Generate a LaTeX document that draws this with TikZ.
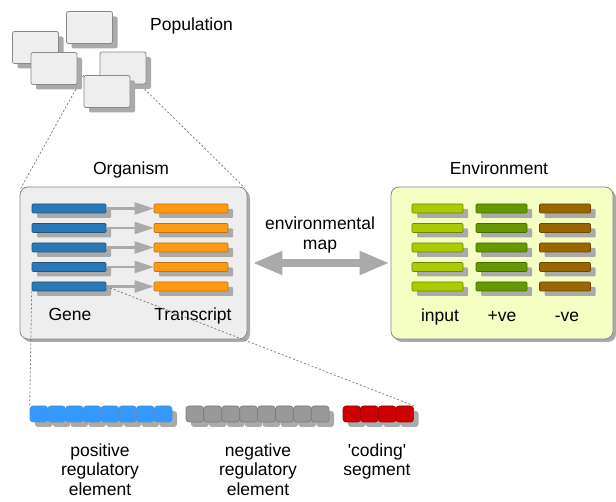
\documentclass[tikz,border=0pt]{standalone}
\usepackage{fontspec}
\newfontfamily\lsans{Liberation Sans}
\usetikzlibrary{arrows.meta,shadows,backgrounds}

\definecolor{boxfill}{HTML}{EEEEEE}
\definecolor{boxdraw}{HTML}{888888}
\definecolor{shadowc}{HTML}{AAAAAA}
\definecolor{envfill}{HTML}{F5FFC4}
\definecolor{geneblue}{HTML}{2B78B6}
\definecolor{transor}{HTML}{FF9912}
\definecolor{inputc}{HTML}{AACC00}
\definecolor{posc}{HTML}{669900}
\definecolor{negc}{HTML}{996600}
\definecolor{sqblue}{HTML}{3399FF}
\definecolor{sqgray}{HTML}{999999}
\definecolor{sqred}{HTML}{CC0000}
\definecolor{arrowc}{HTML}{AAAAAA}
\definecolor{dashc}{HTML}{808080}

\begin{document}
\begin{tikzpicture}[x=1pt,y=-1pt,
  lbl/.style={font=\lsans\fontsize{17.5}{19.5}\selectfont, inner sep=0pt, text=black},
  popbox/.style={rectangle, rounded corners=2pt, fill=boxfill, draw=boxdraw, line width=0.8pt,
    minimum width=46pt, minimum height=32pt, inner sep=0pt,
    general shadow={shadow xshift=5pt, shadow yshift=-5pt, fill=shadowc}},
  bigbox/.style={rectangle, rounded corners=8pt, draw=boxdraw, line width=0.8pt,
    minimum height=152pt, inner sep=0pt,
    general shadow={shadow xshift=3pt, shadow yshift=-3pt, fill=shadowc}},
  bar/.style={rectangle, rounded corners=1pt, minimum height=9pt, inner sep=0pt, line width=0.6pt,
    general shadow={shadow xshift=5pt, shadow yshift=-5pt, fill=shadowc}},
  sq/.style={rectangle, rounded corners=3pt, minimum width=17.75pt, minimum height=16pt, inner sep=0pt,
    line width=0.6pt, general shadow={shadow xshift=5pt, shadow yshift=-5pt, fill=shadowc}},
  dashline/.style={dashc, line width=0.8pt, dash pattern=on 2pt off 2pt},
  garrow/.style={arrowc, line width=2.2pt, -{Triangle[length=19pt,width=12pt]}},
  maparrow/.style={arrowc, line width=8pt, {Triangle[length=30pt,width=22pt]}-{Triangle[length=30pt,width=22pt]}}
]
\useasboundingbox (0,0) rectangle (616,502);

% population
\node[popbox] (pa) at (89.5,27.5) {};
\node[popbox] (pb) at (35.5,47.5) {};
\node[popbox] (pc) at (54,68.5) {};
\node[popbox] (pd) at (123,68) {};
\node[popbox] (pe) at (107,91.5) {};
\node[lbl, anchor=base] (poplbl) at (191.5,30.5) {Population};

% organism and environment boxes
\node[bigbox, fill=boxfill, minimum width=227pt] (org) at (133.5,263) {};
\node[bigbox, fill=envfill, minimum width=222pt] (env) at (502,263) {};
\node[lbl, anchor=base] (orglbl) at (131,175) {Organism};
\node[lbl, anchor=base] (envlbl) at (499,175) {Environment};

% genes, transcripts, environment bars
\foreach \i/\yy in {1/208.5,2/228,3/247.5,4/267,5/286.5}{
  \node[bar, minimum width=74pt, fill=geneblue, draw=geneblue!70!black] (g\i) at (69,\yy) {};
  \node[bar, minimum width=74pt, fill=transor, draw=transor!75!black] (t\i) at (191,\yy) {};
  \node[bar, minimum width=51pt, fill=inputc, draw=inputc!65!black] (ei\i) at (437.5,\yy) {};
  \node[bar, minimum width=51pt, fill=posc, draw=posc!70!black] (ep\i) at (501.5,\yy) {};
  \node[bar, minimum width=51pt, fill=negc, draw=negc!70!black] (en\i) at (565,\yy) {};
  \draw[garrow] (g\i.east) -- (t\i.west);
}
\node[lbl, anchor=base] (genelbl) at (70,321) {Gene};
\node[lbl, anchor=base] (translbl) at (193,321) {Transcript};
\node[lbl, anchor=base] (inlbl) at (440,322) {input};
\node[lbl, anchor=base] (poslbl) at (502,322) {+ve};
\node[lbl, anchor=base] (neglbl) at (567,322) {-ve};

% environmental map
\draw[maparrow] ([xshift=5pt]org.east) -- ([xshift=-1pt]env.west);
\node[lbl, anchor=north, align=center] (maplbl) at (320,217) {environmental\\map};

% segments
\foreach \i in {0,...,7}{
  \node[sq, fill=sqblue, draw=sqblue!55!gray] (sb\i) at ({38.875+17.75*\i},414) {};
}
\foreach \i in {0,...,7}{
  \node[sq, fill=sqgray, draw=sqgray!80!black] (sg\i) at ({194.875+17.9*\i},414) {};
}
\foreach \i in {0,...,3}{
  \node[sq, fill=sqred, draw=sqred!75!black] (sr\i) at ({351.875+17.6*\i},414) {};
}
\node[lbl, anchor=north, align=center] (poselbl) at (100,443.5) {positive\\regulatory\\element};
\node[lbl, anchor=north, align=center] (negelbl) at (258,443.5) {negative\\regulatory\\element};
\node[lbl, anchor=north, align=center] (codlbl) at (377,443.5) {'coding'\\segment};

% zoom lines
\begin{scope}[on background layer]
  \draw[dashline] (pe.north west) -- ([xshift=1pt,yshift=-2pt]org.north west);
  \draw[dashline] (pe.north east) -- ([xshift=-3pt,yshift=-1pt]org.north east);
\end{scope}
\draw[dashline] (g5.south west) -- (sb0.north west);
\draw[dashline] (g5.east) -- (sr3.north east);
\end{tikzpicture}
\end{document}
